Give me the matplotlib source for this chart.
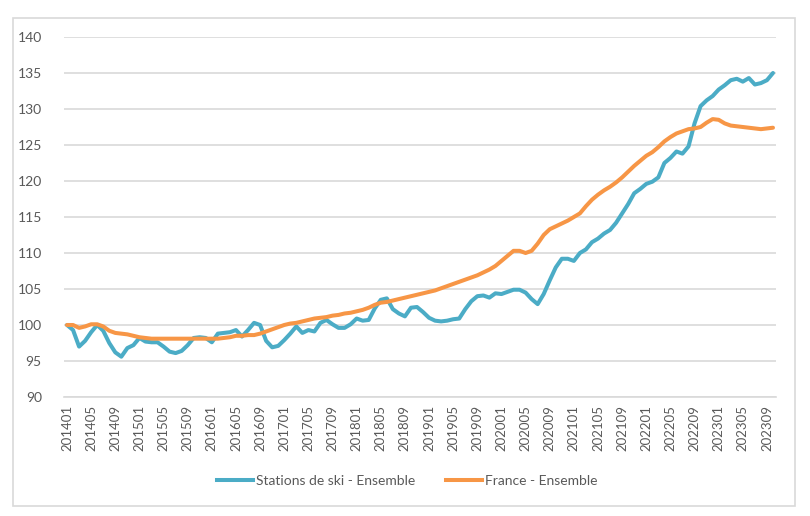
import matplotlib
matplotlib.use("Agg")
import matplotlib.pyplot as plt
from matplotlib.patches import Rectangle
from matplotlib.lines import Line2D

# Months 201401 .. 202310
months = [f"{y}{m:02d}" for y in range(2014, 2024) for m in range(1, 13)][:118]

stations_ski = [
    100.0, 99.3, 97.0, 97.8, 99.0, 100.0, 99.2, 97.5, 96.2, 95.6,
    96.8, 97.2, 98.2, 97.7, 97.6, 97.6, 97.0, 96.3, 96.1, 96.4,
    97.2, 98.2, 98.3, 98.2, 97.6, 98.8, 98.9, 99.0, 99.3, 98.4,
    99.3, 100.3, 100.0, 97.8, 96.9, 97.1, 97.9, 98.8, 99.8, 98.9,
    99.3, 99.1, 100.3, 100.7, 100.1, 99.6, 99.6, 100.1, 100.9, 100.6,
    100.7, 102.3, 103.5, 103.7, 102.2, 101.6, 101.2, 102.4, 102.5, 101.8,
    101.0, 100.6, 100.5, 100.6, 100.8, 100.9, 102.2, 103.3, 104.0, 104.1,
    103.8, 104.4, 104.3, 104.6, 104.9, 104.9, 104.5, 103.6, 102.9, 104.3,
    106.2, 108.0, 109.2, 109.2, 108.9, 110.0, 110.5, 111.5, 112.0, 112.7,
    113.2, 114.2, 115.5, 116.8, 118.3, 118.9, 119.6, 119.9, 120.5, 122.5,
    123.2, 124.1, 123.8, 124.8, 128.0, 130.4, 131.2, 131.8, 132.7, 133.3,
    134.0, 134.2, 133.8, 134.3, 133.4, 133.6, 134.0, 135.0,
]

france = [
    100.0, 100.0, 99.6, 99.8, 100.1, 100.1, 99.8, 99.2, 98.9, 98.8,
    98.7, 98.5, 98.3, 98.2, 98.1, 98.1, 98.1, 98.1, 98.1, 98.1,
    98.1, 98.1, 98.1, 98.1, 98.1, 98.1, 98.2, 98.3, 98.5, 98.5,
    98.6, 98.6, 98.8, 99.1, 99.4, 99.7, 100.0, 100.2, 100.3, 100.5,
    100.7, 100.9, 101.0, 101.1, 101.3, 101.4, 101.6, 101.7, 101.9, 102.1,
    102.4, 102.8, 103.1, 103.2, 103.4, 103.6, 103.8, 104.0, 104.2, 104.4,
    104.6, 104.8, 105.1, 105.4, 105.7, 106.0, 106.3, 106.6, 106.9, 107.3,
    107.7, 108.2, 108.9, 109.6, 110.3, 110.3, 110.0, 110.3, 111.3, 112.5,
    113.3, 113.7, 114.1, 114.5, 115.0, 115.5, 116.5, 117.4, 118.1, 118.7,
    119.2, 119.8, 120.5, 121.3, 122.1, 122.8, 123.5, 124.0, 124.7, 125.5,
    126.1, 126.6, 126.9, 127.2, 127.3, 127.5, 128.1, 128.6, 128.5, 128.0,
    127.7, 127.6, 127.5, 127.4, 127.3, 127.2, 127.3, 127.4,
]

series_names = ["Stations de ski - Ensemble", "France - Ensemble"]
yticks = [90, 95, 100, 105, 110, 115, 120, 125, 130, 135, 140]

BLUE = "#4BACC6"
ORANGE = "#F79646"
GREY_TXT = "#595959"
GRID = "#d9d9d9"

W, H = 810, 516
fig = plt.figure(figsize=(W / 100, H / 100), dpi=100)
plt.rcParams['font.family'] = ['Lato', 'DejaVu Sans']

ax_l, ax_r, ax_t, ax_b = 64, 776, 37, 397
ax = fig.add_axes([ax_l / W, 1 - ax_b / H, (ax_r - ax_l) / W, (ax_b - ax_t) / H])

x = list(range(len(months)))
ax.plot(x, stations_ski, color=BLUE, lw=2.9, solid_capstyle="round", solid_joinstyle="round", zorder=3)
ax.plot(x, france, color=ORANGE, lw=2.9, solid_capstyle="round", solid_joinstyle="round", zorder=4)

ax.set_xlim(-0.5, len(months) - 0.5)
ax.set_ylim(90, 140)
ax.set_yticks(yticks)
ax.set_yticklabels([str(v) for v in yticks], color=GREY_TXT, fontsize=10)
tick_idx = list(range(0, len(months), 4))
ax.set_xticks(tick_idx)
ax.set_xticklabels([months[i] for i in tick_idx], rotation=90, color=GREY_TXT, fontsize=9.5)
ax.tick_params(axis="both", length=0)
ax.tick_params(axis="y", pad=16)
ax.tick_params(axis="x", pad=6)

ax.grid(axis="y", color=GRID, lw=1.2)
ax.set_axisbelow(True)
for s in ["top", "right", "left"]:
    ax.spines[s].set_visible(False)
ax.spines["bottom"].set_color(GRID)
ax.spines["bottom"].set_linewidth(1.2)

# outer frame
fig.patches.append(Rectangle((13 / W, 1 - 506 / H), (795 - 13) / W, (506 - 18) / H,
                             transform=fig.transFigure, fill=False, edgecolor=GRID, lw=1.2))

handles = [Line2D([0], [0], color=BLUE, lw=2.9), Line2D([0], [0], color=ORANGE, lw=2.9)]
fig.legend(handles, series_names, loc="center", bbox_to_anchor=(407 / W, 1 - 481 / H),
           ncol=2, frameon=False, fontsize=10, handlelength=2.6, handletextpad=0.2,
           columnspacing=2.2, labelcolor=GREY_TXT)

fig.savefig("out.png", dpi=100)
